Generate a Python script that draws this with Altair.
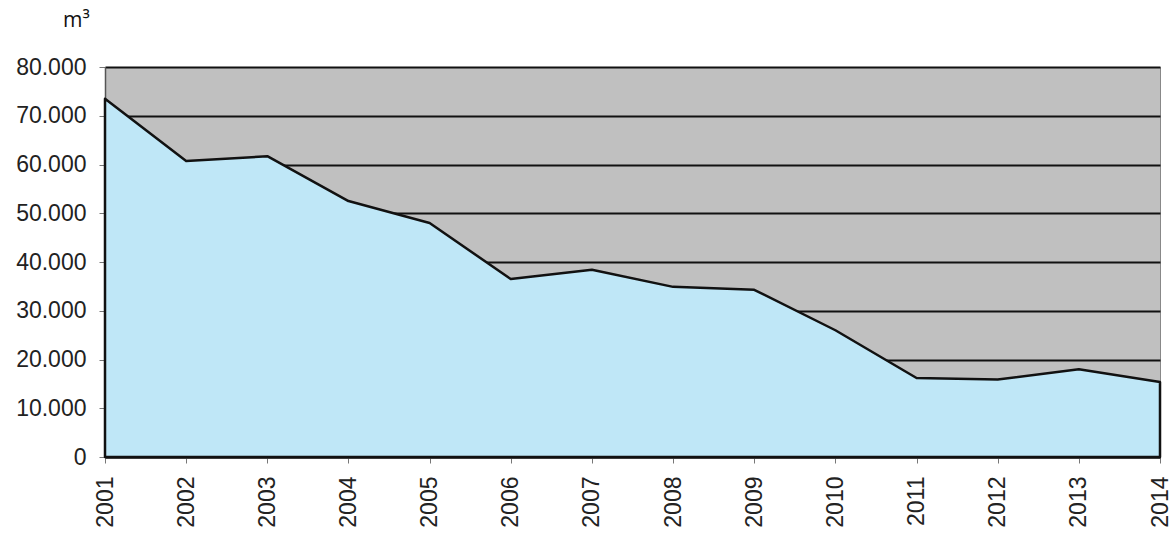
import altair as alt
import pandas as pd

years = list(range(2001, 2015))
volumes = [73500, 60700, 61700, 52500, 48000, 36500, 38400, 34900, 34300, 26000, 16200, 15900, 18000, 15400]
y_ticks = [0, 10000, 20000, 30000, 40000, 50000, 60000, 70000, 80000]
unit_label = ["m³"]

df = pd.DataFrame({"year": years, "volume": volumes})
unit_df = pd.DataFrame({"label": unit_label})

FONT = "Liberation Sans"

area = alt.Chart(df).mark_area(
    fill="#bfe7f7", stroke="#111111", strokeWidth=2.5, strokeJoin="round"
).encode(
    x=alt.X("year:Q",
            scale=alt.Scale(domain=[2001, 2014], nice=False, zero=False),
            axis=alt.Axis(values=years, format="d", labelAngle=-90, labelAlign="right",
                          labelBaseline="middle", title=None, grid=False,
                          tickSize=6, labelPadding=13, tickColor="#777777",
                          domainColor="#111111", domainWidth=2,
                          labelFont=FONT, labelFontSize=23, labelColor="#222222")),
    y=alt.Y("volume:Q",
            scale=alt.Scale(domain=[0, 80000], nice=False),
            axis=alt.Axis(values=y_ticks, title=None, grid=True, gridColor="#111111",
                          gridWidth=2, tickSize=6, labelPadding=13, tickColor="#777777",
                          domainColor="#555555", domainWidth=1.5,
                          labelExpr="replace(format(datum.value, ','), ',', '.')",
                          labelFont=FONT, labelFontSize=23, labelColor="#222222")),
)

unit = alt.Chart(unit_df).mark_text(
    align="left", baseline="alphabetic", font="Open Sans", fontSize=21, color="#111111"
).encode(
    text="label:N",
    x=alt.value(-42),
    y=alt.value(-40),
)

chart = alt.layer(area, unit).properties(
    width=1055,
    height=390,
    autosize=alt.AutoSizeParams(type="none"),
    padding={"left": 105, "top": 67, "right": 16, "bottom": 78},
).configure(
    background="white"
).configure_view(
    fill="#c0c0c0", stroke="#888888", strokeWidth=1
)

chart.save("out.html", embed_options={"renderer": "svg", "actions": False})
